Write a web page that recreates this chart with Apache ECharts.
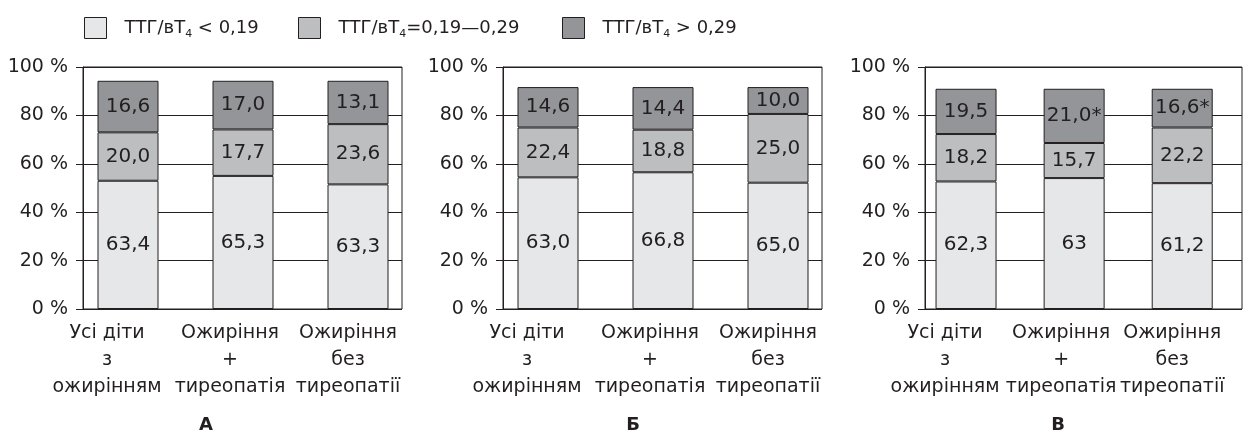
<!DOCTYPE html>
<html>
<head>
<meta charset="utf-8">
<script src="https://cdn.jsdelivr.net/npm/echarts@6/dist/echarts.min.js"></script>
<style>
  html, body { margin: 0; padding: 0; background: #fff; }
  #chart { width: 1244px; height: 434px; }
</style>
</head>
<body>
<div id="chart"></div>
<script>
// categories and legend names
const categories = ['Усі діти\nз\nожирінням', 'Ожиріння\n+\nтиреопатія', 'Ожиріння\nбез\nтиреопатії'];
const seriesNames = ['ТТГ/вТ4 < 0,19', 'ТТГ/вТ4=0,19—0,29', 'ТТГ/вТ4 > 0,29'];
const panelTitles = ['А', 'Б', 'В'];
const yTicks = [0, 20, 40, 60, 80, 100];

// drawn segment heights (as they appear on the picture), bottom → top
const lowA = [53.0, 55.0, 51.5];
const midA = [20.0, 19.2, 24.9];
const highA = [21.3, 20.1, 17.9];
const lowB = [54.4, 56.5, 52.2];
const midB = [20.6, 17.6, 28.4];
const highB = [16.7, 17.6, 11.1];
const lowV = [52.7, 54.1, 52.0];
const midV = [19.6, 14.5, 23.0];
const highV = [18.7, 22.4, 16.0];

// printed numbers inside the segments
const lowLabelsA = ['63,4', '65,3', '63,3'];
const midLabelsA = ['20,0', '17,7', '23,6'];
const highLabelsA = ['16,6', '17,0', '13,1'];
const lowLabelsB = ['63,0', '66,8', '65,0'];
const midLabelsB = ['22,4', '18,8', '25,0'];
const highLabelsB = ['14,6', '14,4', '10,0'];
const lowLabelsV = ['62,3', '63', '61,2'];
const midLabelsV = ['18,2', '15,7', '22,2'];
const highLabelsV = ['19,5', '21,0*', '16,6*'];

const panels = [
  { values: [lowA, midA, highA], labels: [lowLabelsA, midLabelsA, highLabelsA], frameLeft: 83, frameWidth: 319, barLeft: 70.5, titleX: 206 },
  { values: [lowB, midB, highB], labels: [lowLabelsB, midLabelsB, highLabelsB], frameLeft: 503, frameWidth: 319, barLeft: 490.5, titleX: 633 },
  { values: [lowV, midV, highV], labels: [lowLabelsV, midLabelsV, highLabelsV], frameLeft: 925, frameWidth: 317, barLeft: 912, titleX: 1058 }
];

const colors = ['#e6e7e8', '#bcbec0', '#939598'];
const ink = '#231f20';
const font = 'DejaVu Sans';
const plotTop = 67;
const plotHeight = 242;

const chart = echarts.init(document.getElementById('chart'));

const grid = [];
const xAxis = [];
const yAxis = [];
const series = [];
const title = [];

const catStyle = (pad) => ({ fontFamily: font, fontSize: 19, lineHeight: 27, color: ink, padding: [0, pad, 0, 0] });

panels.forEach((p, k) => {
  // frame grid: box, y ticks and grid lines
  grid.push({
    left: p.frameLeft, top: plotTop, width: p.frameWidth, height: plotHeight,
    show: true, borderColor: ink, borderWidth: 1, backgroundColor: 'transparent'
  });
  // bar grid
  grid.push({ left: p.barLeft, top: plotTop, width: 345, height: plotHeight });

  xAxis.push({
    gridIndex: 2 * k, type: 'value', min: 0, max: 1, show: false
  });
  yAxis.push({
    gridIndex: 2 * k, type: 'value', min: 0, max: 100, interval: 20,
    axisLine: { show: true, lineStyle: { color: ink, width: 1 } },
    axisTick: { show: true, length: 7, lineStyle: { color: ink, width: 1 } },
    splitLine: { show: true, lineStyle: { color: ink, width: 1 } },
    axisLabel: {
      margin: 15, color: ink, fontFamily: font, fontSize: 19,
      formatter: (v) => yTicks.includes(v) ? v + ' %' : ''
    }
  });

  xAxis.push({
    gridIndex: 2 * k + 1, type: 'category', data: categories,
    axisLine: { show: false }, axisTick: { show: false },
    axisLabel: {
      margin: 11, interval: 0, color: ink, fontFamily: font, fontSize: 19, lineHeight: 27,
      formatter: (v, i) => v.split('\n').map((s) => '{c' + i + '|' + s + '}').join('\n'),
      rich: { c0: catStyle(42), c1: catStyle(26), c2: catStyle(20) }
    }
  });
  yAxis.push({ gridIndex: 2 * k + 1, type: 'value', min: 0, max: 100, show: false });

  p.values.forEach((vals, s) => {
    const labels = p.labels[s];
    series.push({
      name: seriesNames[s],
      type: 'bar',
      stack: 'p' + k,
      xAxisIndex: 2 * k + 1,
      yAxisIndex: 2 * k + 1,
      barWidth: 61,
      data: vals,
      itemStyle: { color: colors[s], borderColor: ink, borderWidth: 1 },
      label: {
        show: true, position: 'inside', color: ink, fontFamily: font, fontSize: 20,
        formatter: (d) => labels[d.dataIndex]
      },
      emphasis: { disabled: true }
    });
  });

  title.push({
    text: panelTitles[k], left: p.titleX, top: 416, textAlign: 'center', padding: 0,
    textStyle: { fontFamily: font, fontSize: 18, fontWeight: 'bold', color: ink }
  });
});

const legendLefts = [84, 298, 562];
const legend = seriesNames.map((name, i) => ({
  data: [name],
  left: legendLefts[i],
  top: 17,
  padding: 0,
  itemWidth: 22,
  itemHeight: 21,
  icon: 'rect',
  itemStyle: { borderColor: ink, borderWidth: 1 },
  selectedMode: false,
  formatter: (n) => {
    const parts = n.split('вТ4');
    return '{t0|ТТГ/вТ}{s|4}{t|' + parts[1] + '}';
  },
  textStyle: {
    color: ink, fontFamily: font, fontSize: 18,
    rich: {
      t0: { fontFamily: font, fontSize: 18, color: ink, padding: [0, 0, 0, 13], lineHeight: 24 },
      t: { fontFamily: font, fontSize: 18, color: ink, lineHeight: 24 },
      s: { fontFamily: font, fontSize: 11, color: ink, verticalAlign: 'bottom', lineHeight: 24 }
    }
  }
}));

chart.setOption({
  animation: false,
  backgroundColor: '#fff',
  title,
  legend,
  grid,
  xAxis,
  yAxis,
  series
});
</script>
</body>
</html>
